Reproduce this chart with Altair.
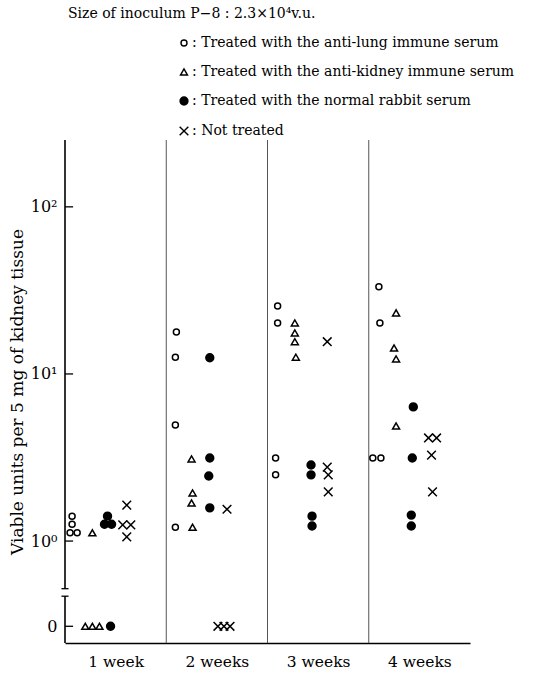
import math
import altair as alt
import pandas as pd

# ---- data (x = position in weeks, v = viable units; 0 = none found) ----
groups = [
    "Treated with the anti-lung immune serum",
    "Treated with the anti-kidney immune serum",
    "Treated with the normal rabbit serum",
    "Not treated",
]

lung_x = [0.07, 0.07, 0.05, 0.12,  1.10, 1.09, 1.09, 1.09,  2.10, 2.10, 2.08, 2.08,  3.10, 3.11, 3.04, 3.12]
lung_v = [1.41, 1.26, 1.12, 1.12,  17.8, 12.6, 4.95, 1.21,  25.5, 20.2, 3.14, 2.49,  33.2, 20.2, 3.14, 3.14]

kid_x = [0.27, 0.20, 0.27, 0.34,  1.25, 1.26, 1.25, 1.26,  2.27, 2.27, 2.27, 2.28,  3.27, 3.25, 3.27, 3.27]
kid_v = [1.12, 0, 0, 0,           3.10, 1.94, 1.69, 1.21,  20.2, 17.6, 15.6, 12.6,  23.2, 14.3, 12.3, 4.88]

nrs_x = [0.42, 0.39, 0.46, 0.45,  1.43, 1.43, 1.42, 1.43,  2.43, 2.43, 2.44, 2.44,  3.44, 3.43, 3.42, 3.42]
nrs_v = [1.41, 1.26, 1.26, 0,     12.5, 3.14, 2.45, 1.58,  2.85, 2.49, 1.41, 1.23,  6.35, 3.14, 1.43, 1.23]

not_x = [0.61, 0.57, 0.65, 0.61,  1.60, 1.51, 1.57, 1.63,  2.59, 2.59, 2.60, 2.60,  3.59, 3.67, 3.62, 3.63]
not_v = [1.64, 1.25, 1.25, 1.06,  1.55, 0, 0, 0,           15.6, 2.77, 2.49, 1.97,  4.14, 4.14, 3.27, 1.97]

week_labels = ["1 week", "2 weeks", "3 weeks", "4 weeks"]
week_centers = [0.5, 1.5, 2.5, 3.5]
dividers = [1, 2, 3]
header = "Size of inoculum P−8 : 2.3×10⁴v.u."

# ---- axis layout (log10 scale with a broken-off zero row) ----
zero_pos = -0.51
y_min, y_max = -0.61, 2.40
break_upper, break_lower = -0.285, -0.33
tick_pos = [zero_pos, 0, 1, 2]

rows = []
for g, xs, vs in zip(groups, [lung_x, kid_x, nrs_x, not_x], [lung_v, kid_v, nrs_v, not_v]):
    for x, v in zip(xs, vs):
        rows.append({"group": g, "x": x, "v": v,
                     "pos": math.log10(v) if v > 0 else zero_pos})
df = pd.DataFrame(rows)

SERIF = "DejaVu Serif"

xscale = alt.Scale(domain=[0, 4], nice=False, zero=False)
yscale = alt.Scale(domain=[y_min, y_max], nice=False, zero=False)

label_expr_x = " : ".join(
    f"datum.value == {c} ? '{l}'" for c, l in zip(week_centers, week_labels)) + " : ''"
xaxis = alt.Axis(values=week_centers, labelExpr=label_expr_x, ticks=False,
                 domain=True, domainColor="black", domainWidth=1.5, grid=False,
                 labelFont=SERIF, labelFontSize=15.5, labelColor="black",
                 labelPadding=11, title=None)
yaxis = alt.Axis(values=tick_pos,
                 labelExpr="datum.value < -0.1 ? '0' : datum.value == 0 ? '10⁰' : datum.value == 1 ? '10¹' : '10²'",
                 ticks=False, domain=False, grid=False,
                 labelFont=SERIF, labelFontSize=16, labelColor="black", labelPadding=8,
                 title="Viable units per 5 mg of kidney tissue", titleFont=SERIF,
                 titleFontSize=17, titleFontWeight="normal", titleColor="black",
                 titlePadding=4)


def X(f):
    return alt.X(f"{f}:Q", scale=xscale, axis=xaxis)


def Y(f):
    return alt.Y(f"{f}:Q", scale=yscale, axis=yaxis)


div_df = pd.DataFrame({"x": dividers, "y": [y_min] * 3, "y2": [y_max] * 3})
div_layer = alt.Chart(div_df).mark_rule(color="#555", strokeWidth=1).encode(
    x=X("x"), y=Y("y"), y2="y2")

seg_df = pd.DataFrame({"x": [0, 0], "y": [y_min, break_upper], "y2": [break_lower, y_max]})
seg_layer = alt.Chart(seg_df).mark_rule(color="black", strokeWidth=1.6).encode(
    x=X("x"), y=Y("y"), y2="y2")

tick_df = pd.DataFrame({"x": [0] * 4, "x2": [0.08] * 4, "y": tick_pos})
tick_layer = alt.Chart(tick_df).mark_rule(color="black", strokeWidth=1.3).encode(
    x=X("x"), x2="x2", y=Y("y"))

brk_df = pd.DataFrame({"x": [-0.035, -0.035], "x2": [0.035, 0.035], "y": [break_upper, break_lower]})
brk_layer = alt.Chart(brk_df).mark_rule(color="black", strokeWidth=1.3).encode(
    x=X("x"), x2="x2", y=Y("y"))

head_layer = alt.Chart(pd.DataFrame({"t": [header]})).mark_text(
    align="left", baseline="middle", font=SERIF, fontSize=14, color="black"
).encode(text="t:N", x=alt.value(3), y=alt.value(-126))

legend = alt.Legend(orient="none", legendX=112, legendY=-104, title=None,
                    labelFont=SERIF, labelFontSize=14, labelColor="black", labelLimit=0,
                    labelExpr="':  ' + datum.label", labelOffset=1,
                    rowPadding=15, symbolStrokeWidth=1.4)

shape_range = ["circle", "triangle-up", "circle", "M-1,-1L1,1M-1,1L1,-1"]
pts = alt.Chart(df).mark_point(filled=True, strokeWidth=1.5, opacity=1).encode(
    x=X("x"), y=Y("pos"),
    shape=alt.Shape("group:N", scale=alt.Scale(domain=groups, range=shape_range), legend=legend),
    fill=alt.Fill("group:N", scale=alt.Scale(
        domain=groups, range=["transparent", "transparent", "black", "transparent"]),
        legend=legend),
    stroke=alt.Stroke("group:N", scale=alt.Scale(
        domain=groups, range=["black", "black", "black", "black"]), legend=legend),
    size=alt.Size("group:N", scale=alt.Scale(domain=groups, range=[36, 75, 52, 45]),
                  legend=legend),
)

chart = alt.layer(div_layer, seg_layer, tick_layer, brk_layer, head_layer, pts).properties(
    width=405, height=503,
    autosize=alt.AutoSizeParams(type="none"),
    padding={"left": 65, "top": 140, "right": 80, "bottom": 32},
).configure(background="white", view=alt.ViewConfig(stroke=None))

chart.save("out.html", embed_options={"renderer": "svg", "actions": False})
